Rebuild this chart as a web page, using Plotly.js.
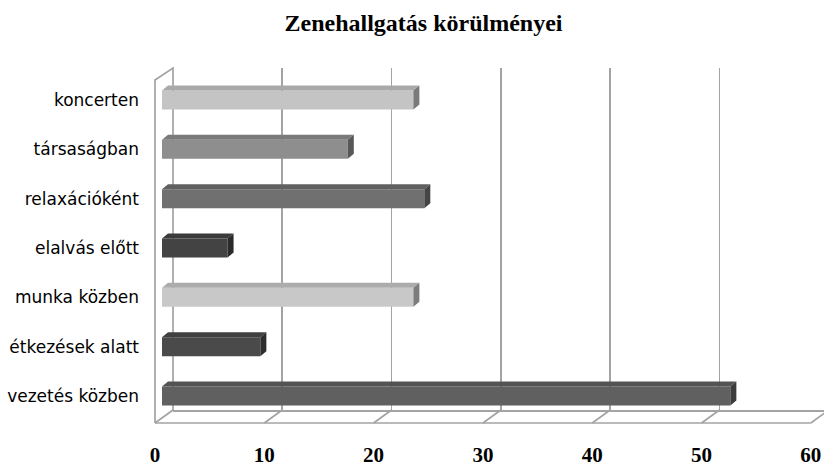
<!DOCTYPE html>
<html>
<head>
<meta charset="utf-8">
<script src="https://cdn.plot.ly/plotly-3.0.1.min.js"></script>
<style>html,body{margin:0;padding:0;background:#fff;}#chart{width:824px;height:466px;}</style>
</head>
<body>
<div id="chart"></div>
<script>
// ---- data (bottom to top) ----
const categories = ['vezetés közben', 'étkezések alatt', 'munka közben', 'elalvás előtt', 'relaxációként', 'társaságban', 'koncerten'];
const values = [52, 9, 23, 6, 24, 17, 23];
const tickValues = [0, 10, 20, 30, 40, 50, 60];
const titleText = 'Zenehallgatás körülményei';

// ---- styles ----
const frontColors = ['#606060', '#4a4a4a', '#c8c8c8', '#434343', '#707070', '#8e8e8e', '#c4c4c4'];
const W = 824, H = 466;
const PXU = 10.93;          // px per value unit
const FRONT0 = 155, BACK0 = 173, BAR0 = 162;
const FLOOR_FRONT = 423, FLOOR_BACK = 410, WALL_TOP_BACK = 68, WALL_TOP_FRONT = 80;
const BAR_Y_BOTTOM = 420.7, BAR_Y_TOP = 75.3;
const gridColor = '#a3a3a3';

const px = x => x / W;
const py = y => 1 - y / H;

function shade(hex, f) {
  const n = parseInt(hex.slice(1), 16);
  const r = Math.round(((n >> 16) & 255) * f), g = Math.round(((n >> 8) & 255) * f), b = Math.round((n & 255) * f);
  return 'rgb(' + r + ',' + g + ',' + b + ')';
}

const idx = categories.map((_, i) => i);
const unitPxY = (BAR_Y_BOTTOM - BAR_Y_TOP) / categories.length;
const half = 19 / unitPxY / 2;
const dx = 6 / PXU, dy = 5 / unitPxY;

const traces = [];
// empty trace for the back-wall grid subplot
traces.push({type: 'scatter', x: [], y: [], xaxis: 'x', yaxis: 'y', hoverinfo: 'skip', showlegend: false});

// front faces
traces.push({
  type: 'bar', orientation: 'h', x: values, y: idx, xaxis: 'x2', yaxis: 'y2',
  width: 2 * half, marker: {color: frontColors, line: {width: 0}}, hoverinfo: 'x', showlegend: false
});
// top and side faces
values.forEach((v, i) => {
  const c = idx[i];
  traces.push({
    type: 'scatter', mode: 'lines', xaxis: 'x2', yaxis: 'y2', fill: 'toself',
    x: [0, v, v + dx, dx, 0], y: [c + half, c + half, c + half + dy, c + half + dy, c + half],
    fillcolor: shade(frontColors[i], 0.86), line: {width: 0}, hoverinfo: 'skip', showlegend: false
  });
  traces.push({
    type: 'scatter', mode: 'lines', xaxis: 'x2', yaxis: 'y2', fill: 'toself',
    x: [v, v, v + dx, v + dx, v], y: [c - half, c + half, c + half + dy, c - half + dy, c - half],
    fillcolor: shade(frontColors[i], 0.62), line: {width: 0}, hoverinfo: 'skip', showlegend: false
  });
});

// frame shapes
const shapes = [];
const lineStyle = {color: gridColor, width: 1.7};
shapes.push({type: 'path', xref: 'paper', yref: 'paper', layer: 'below', line: lineStyle,
  path: 'M' + px(FRONT0) + ',' + py(FLOOR_FRONT) + ' L' + px(FRONT0) + ',' + py(WALL_TOP_FRONT) +
        ' L' + px(BACK0) + ',' + py(WALL_TOP_BACK) + ' L' + px(BACK0) + ',' + py(FLOOR_BACK)});
tickValues.forEach(v => {
  shapes.push({type: 'line', xref: 'paper', yref: 'paper', layer: 'below', line: lineStyle,
    x0: px(BACK0 + PXU * v), y0: py(FLOOR_BACK), x1: px(FRONT0 + PXU * v), y1: py(FLOOR_FRONT)});
});
shapes.push({type: 'line', xref: 'paper', yref: 'paper', layer: 'below', line: lineStyle,
  x0: px(FRONT0), y0: py(FLOOR_FRONT), x1: px(FRONT0 + PXU * 60), y1: py(FLOOR_FRONT)});

const layout = {
  width: W, height: H,
  margin: {l: 0, r: 0, t: 0, b: 0},
  paper_bgcolor: '#ffffff', plot_bgcolor: 'rgba(0,0,0,0)',
  showlegend: false,
  title: {text: titleText, x: 0.514, xanchor: 'center', xref: 'paper', y: py(23), yanchor: 'middle', yref: 'paper',
    font: {family: 'Liberation Serif', size: 24, weight: 'bold', color: '#000'}},
  // back wall grid
  xaxis: {domain: [px(BACK0), 1], range: [0, (W - BACK0) / PXU], anchor: 'y',
    tickvals: [10, 20, 30, 40, 50], showgrid: true, gridcolor: gridColor, gridwidth: 1.7,
    showticklabels: false, ticks: '', zeroline: false, showline: true, linecolor: gridColor, linewidth: 1.7, fixedrange: true},
  yaxis: {domain: [py(FLOOR_BACK), py(WALL_TOP_BACK)], range: [0, 1], anchor: 'x', visible: false, fixedrange: true},
  // bars
  xaxis2: {domain: [px(BAR0), px(BAR0 + PXU * 60)], range: [0, 60], anchor: 'y2',
    tickvals: tickValues, ticktext: tickValues.map(String), showgrid: false, zeroline: false, showline: false, ticks: '',
    ticklabelshift: -(BAR0 - FRONT0), ticklabelstandoff: 19,
    tickfont: {family: 'Liberation Serif', size: 21, weight: 'bold', color: '#000'}, fixedrange: true},
  yaxis2: {domain: [py(BAR_Y_BOTTOM), py(BAR_Y_TOP)], range: [-0.5, categories.length - 0.5], anchor: 'x2',
    tickvals: idx, ticktext: categories, showgrid: false, zeroline: false, showline: false, ticks: '',
    ticklabelstandoff: 22,
    tickfont: {family: 'DejaVu Sans', size: 17, color: '#000'}, fixedrange: true},
  shapes: shapes
};

Plotly.newPlot('chart', traces, layout, {displayModeBar: false, staticPlot: true});
</script>
</body>
</html>
